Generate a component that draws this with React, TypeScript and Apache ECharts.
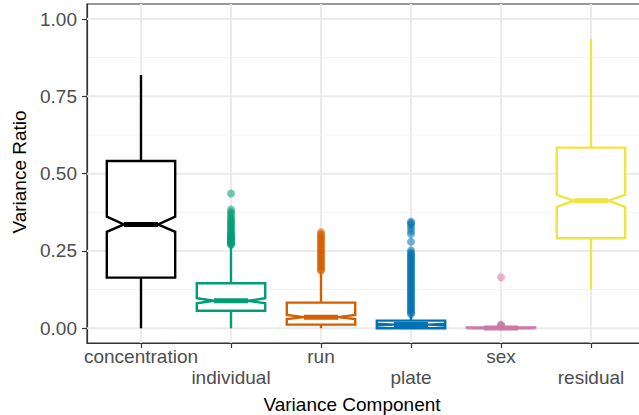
import React, { useEffect, useRef } from "react";
import * as echarts from "echarts";

const categories = ["concentration", "individual", "run", "plate", "sex", "residual"];
const colors = ["#000000", "#009E73", "#D55E00", "#0072B2", "#CC79A7", "#F0E442"];

const lowerWhisker = [0.0, 0.0, 0.0, 0.0, 0.0, 0.127];
const q1 = [0.164, 0.057, 0.012, 0.0, 0.0, 0.291];
const medians = [0.336, 0.089, 0.036, 0.012, 0.001, 0.4125];
const q3 = [0.541, 0.1455, 0.083, 0.025, 0.003, 0.584];
const upperWhisker = [0.819, 0.266, 0.183, 0.043, 0.004, 0.935];
const notchLow = [0.312, 0.081, 0.03, 0.009, 0.0, 0.393];
const notchHigh = [0.361, 0.097, 0.043, 0.015, 0.002, 0.431];

const outliersConcentration: number[] = [];
const outliersIndividual = [
  0.27, 0.272, 0.275, 0.278, 0.28, 0.283, 0.285, 0.288, 0.29, 0.293, 0.296, 0.3,
  0.303, 0.306, 0.31, 0.315, 0.32, 0.325, 0.33, 0.335, 0.34, 0.345, 0.35, 0.355,
  0.362, 0.37, 0.376, 0.384, 0.436,
];
const outliersRun = [
  0.186, 0.19, 0.195, 0.2, 0.205, 0.21, 0.215, 0.22, 0.225, 0.23, 0.235, 0.24,
  0.245, 0.25, 0.255, 0.26, 0.265, 0.27, 0.275, 0.28, 0.285, 0.29, 0.295, 0.3,
  0.305, 0.311,
];
const outliersPlate = [
  0.046, 0.05, 0.055, 0.06, 0.065, 0.07, 0.075, 0.08, 0.085, 0.09, 0.095, 0.1,
  0.105, 0.11, 0.115, 0.12, 0.125, 0.13, 0.135, 0.14, 0.145, 0.15, 0.155, 0.16,
  0.165, 0.17, 0.175, 0.18, 0.185, 0.19, 0.195, 0.2, 0.205, 0.21, 0.215, 0.22,
  0.225, 0.23, 0.235, 0.24, 0.245, 0.252, 0.28, 0.305, 0.315, 0.325, 0.335,
  0.34, 0.345,
];
const outliersSex = [0.006, 0.008, 0.01, 0.012, 0.165];
const outliersResidual: number[] = [];
const outlierLists = [
  outliersConcentration,
  outliersIndividual,
  outliersRun,
  outliersPlate,
  outliersSex,
  outliersResidual,
];

const yTicks = [0, 0.25, 0.5, 0.75, 1.0];
const yMinorTicks = [0.125, 0.375, 0.625, 0.875];
const xTicks = [0, 1, 2, 3, 4, 5];
const xUpperRow = [0, 2, 4];
const xLowerRow = [1, 3, 5];

const X_MIN = -0.6;
const X_MAX = 5.6;
const Y_MIN = -0.0475;
const Y_MAX = 1.0485;
const BOX_WIDTH = 0.76;
const FONT = "'Liberation Sans', Arial, Helvetica, sans-serif";

export default function App() {
  const ref = useRef<HTMLDivElement | null>(null);

  useEffect(() => {
    if (!ref.current) return;
    const chart = echarts.init(ref.current, null, { renderer: "svg" });

    const hLine = (stroke: string, width: number) => (params: any, api: any) => {
      const v = api.value(1);
      const p1 = api.coord([X_MIN, v]);
      const p2 = api.coord([X_MAX, v]);
      return {
        type: "line",
        shape: { x1: p1[0], y1: p1[1], x2: p2[0], y2: p2[1] },
        style: { stroke, lineWidth: width },
      };
    };
    const vLine = (stroke: string, width: number) => (params: any, api: any) => {
      const v = api.value(0);
      const p1 = api.coord([v, Y_MIN]);
      const p2 = api.coord([v, Y_MAX]);
      return {
        type: "line",
        shape: { x1: p1[0], y1: p1[1], x2: p2[0], y2: p2[1] },
        style: { stroke, lineWidth: width },
      };
    };

    const boxData = categories.map((c, i) => [
      i,
      lowerWhisker[i],
      q1[i],
      medians[i],
      q3[i],
      upperWhisker[i],
      notchLow[i],
      notchHigh[i],
    ]);

    const scatterSeries = categories.map((c, i) => ({
      type: "scatter",
      name: c + " outliers",
      data: outlierLists[i].map((v) => [i, v]),
      symbol: "circle",
      symbolSize: 8,
      itemStyle: { color: colors[i], opacity: 0.55 },
      z: 3,
      silent: true,
    }));

    const labelStyle = {
      formatter: (v: number) => categories[Math.round(v)] ?? "",
      color: "#4D4D4D",
      fontSize: 19,
      lineHeight: 21,
      margin: 3,
      fontFamily: FONT,
      hideOverlap: false,
      showMinLabel: true,
      showMaxLabel: true,
    };

    const option: any = {
      animation: false,
      backgroundColor: "#ffffff",
      grid: {
        left: 87,
        top: 4,
        width: 558,
        height: 339,
        show: true,
        borderColor: "#333333",
        borderWidth: 1.2,
        backgroundColor: "transparent",
        containLabel: false,
        outerBoundsMode: "none",
      },
      xAxis: [
        {
          type: "value",
          min: X_MIN,
          max: X_MAX,
          axisLine: { show: true, onZero: false, lineStyle: { color: "#333333", width: 1.2 } },
          axisTick: {
            show: true,
            customValues: xTicks,
            length: 5,
            lineStyle: { color: "#333333", width: 1.2 },
          },
          axisLabel: { ...labelStyle, customValues: xUpperRow },
          splitLine: { show: false },
        },
        {
          type: "value",
          min: X_MIN,
          max: X_MAX,
          position: "bottom",
          offset: 21,
          axisLine: { show: false },
          axisTick: { show: false },
          axisLabel: { ...labelStyle, customValues: xLowerRow },
          splitLine: { show: false },
        },
      ],
      yAxis: {
        type: "value",
        min: Y_MIN,
        max: Y_MAX,
        axisLine: { show: true, onZero: false, lineStyle: { color: "#333333", width: 1.2 } },
        axisTick: {
          show: true,
          customValues: yTicks,
          length: 5,
          lineStyle: { color: "#333333", width: 1.2 },
        },
        axisLabel: {
          customValues: yTicks,
          showMinLabel: true,
          showMaxLabel: true,
          formatter: (v: number) => v.toFixed(2),
          color: "#4D4D4D",
          fontSize: 19,
          margin: 10,
          fontFamily: FONT,
        },
        splitLine: { show: false },
      },
      graphic: [
        {
          type: "text",
          x: 352,
          y: 404,
          style: {
            text: "Variance Component",
            fill: "#000000",
            fontSize: 19,
            fontFamily: FONT,
            align: "center",
            verticalAlign: "middle",
          },
        },
        {
          type: "text",
          x: 19,
          y: 172,
          rotation: Math.PI / 2,
          style: {
            text: "Variance Ratio",
            fill: "#000000",
            fontSize: 19,
            fontFamily: FONT,
            align: "center",
            verticalAlign: "middle",
          },
        },
      ],
      series: [
        {
          type: "custom",
          name: "minor-y",
          data: yMinorTicks.map((v) => [0, v]),
          renderItem: hLine("#F2F2F2", 1),
          silent: true,
          z: 0,
        },
        {
          type: "custom",
          name: "major-y",
          data: yTicks.map((v) => [0, v]),
          renderItem: hLine("#EBEBEB", 2),
          silent: true,
          z: 1,
        },
        {
          type: "custom",
          name: "major-x",
          data: xTicks.map((v) => [v, 0]),
          renderItem: vLine("#EBEBEB", 2),
          silent: true,
          z: 1,
        },
        ...scatterSeries,
        {
          type: "custom",
          name: "boxes",
          data: boxData,
          encode: { x: 0, y: [1, 2, 3, 4, 5, 6, 7] },
          z: 4,
          silent: true,
          renderItem: (params: any, api: any) => {
            const idx = params.dataIndex;
            const color = colors[idx];
            const x = api.value(0);
            const half = api.size([BOX_WIDTH, 0])[0] / 2;
            const inset = half * 0.5;
            const cx = api.coord([x, 0])[0];
            const y = (v: number) => api.coord([x, v])[1];
            const ylo = y(api.value(1));
            const yq1 = y(api.value(2));
            const ym = y(api.value(3));
            const yq3 = y(api.value(4));
            const yhi = y(api.value(5));
            const ynl = y(api.value(6));
            const ynh = y(api.value(7));
            const L = cx - half;
            const R = cx + half;
            const points = [
              [L, yq3],
              [R, yq3],
              [R, ynh],
              [R - inset, ym],
              [R, ynl],
              [R, yq1],
              [L, yq1],
              [L, ynl],
              [L + inset, ym],
              [L, ynh],
            ];
            return {
              type: "group",
              children: [
                {
                  type: "line",
                  shape: { x1: cx, y1: yq3, x2: cx, y2: yhi },
                  style: { stroke: color, lineWidth: 2.4 },
                },
                {
                  type: "line",
                  shape: { x1: cx, y1: yq1, x2: cx, y2: ylo },
                  style: { stroke: color, lineWidth: 2.4 },
                },
                {
                  type: "polygon",
                  shape: { points },
                  style: { fill: "#ffffff", stroke: color, lineWidth: 2.4 },
                },
                {
                  type: "line",
                  shape: { x1: L + inset, y1: ym, x2: R - inset, y2: ym },
                  style: { stroke: color, lineWidth: 5 },
                },
              ],
            };
          },
        },
      ],
    };

    chart.setOption(option);
    return () => {
      chart.dispose();
    };
  }, []);

  return (
    <div
      ref={ref}
      style={{ position: "absolute", left: 0, top: 0, width: 639, height: 415 }}
    />
  );
}
